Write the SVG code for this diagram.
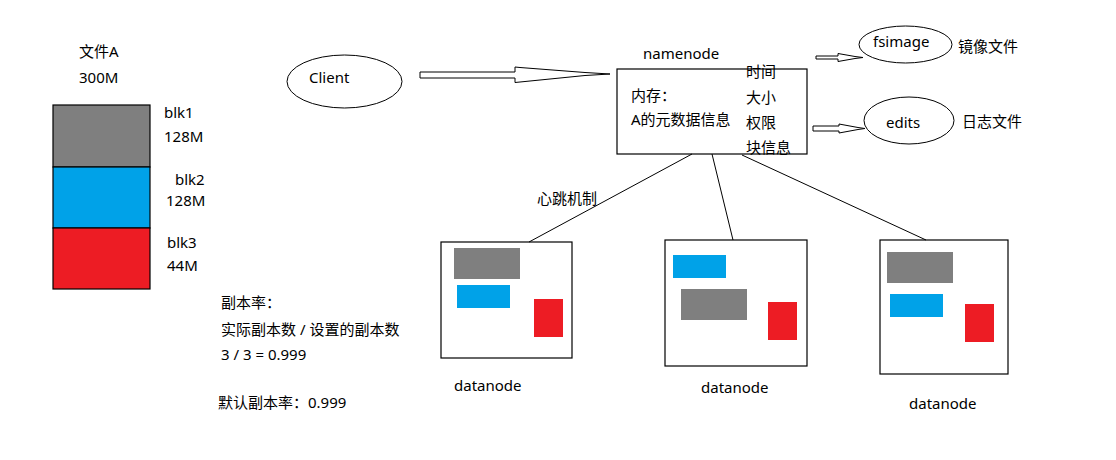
<svg xmlns="http://www.w3.org/2000/svg" width="1116" height="460" viewBox="0 0 1116 460">
<style>
text{font-family:"Noto Sans","Noto Sans CJK SC",sans-serif;font-size:15px;fill:#000}
.box{fill:#fff;stroke:#000;stroke-width:1.2}
.ell{fill:#fff;stroke:#000;stroke-width:1}
.g{fill:#7f7f7f}.b{fill:#00a2e8}.r{fill:#ed1c24}
.blk{stroke:#000;stroke-width:1.2}
.ln{stroke:#000;stroke-width:1;fill:none}
.arr{fill:#fff;stroke:#000;stroke-width:1;stroke-linejoin:miter}
</style>
<rect width="1116" height="460" fill="#fff"/>
<g id="fileA">
<text x="79" y="57">文件A</text>
<text x="79" y="83">300M</text>
<rect class="g blk" x="53" y="105" width="97" height="62"/>
<rect class="b blk" x="53" y="167" width="97" height="61"/>
<rect class="r blk" x="53" y="228" width="97" height="61"/>
<text x="164" y="118">blk1</text>
<text x="164" y="142">128M</text>
<text x="175" y="185">blk2</text>
<text x="166" y="206">128M</text>
<text x="167" y="248">blk3</text>
<text x="167" y="271">44M</text>
</g>
<g id="replica">
<text x="221" y="308">副本率：</text>
<text x="221" y="335">实际副本数 / 设置的副本数</text>
<text x="221" y="360">3 / 3 = 0.999</text>
<text x="218" y="408">默认副本率：0.999</text>
</g>
<g id="client">
<ellipse class="ell" cx="344.5" cy="81.5" rx="57.5" ry="26.5"/>
<text x="309" y="83">Client</text>
</g>
<g id="namenode">
<text x="643" y="59">namenode</text>
<rect class="box" x="617" y="69" width="190" height="85"/>
<text x="631" y="101">内存：</text>
<text x="631" y="125">A的元数据信息</text>
<text x="746" y="77">时间</text>
<text x="746" y="103">大小</text>
<text x="746" y="128">权限</text>
<text x="746" y="153">块信息</text>
</g>
<g id="fsimage">
<ellipse class="ell" cx="905.5" cy="44.5" rx="46.5" ry="18.5"/>
<text x="873" y="47">fsimage</text>
<text x="958" y="52">镜像文件</text>
</g>
<g id="edits">
<ellipse class="ell" cx="909" cy="120.5" rx="45" ry="23.5"/>
<text x="886" y="128">edits</text>
<text x="962" y="127">日志文件</text>
</g>
<g id="datanode1">
<rect class="box" x="441" y="242" width="131" height="116"/>
<rect class="g" x="454" y="248" width="66" height="31"/>
<rect class="b" x="457" y="285" width="53" height="23"/>
<rect class="r" x="534" y="299" width="29" height="38"/>
<text x="454" y="391">datanode</text>
</g>
<g id="datanode2">
<rect class="box" x="665" y="240" width="142" height="126"/>
<rect class="b" x="673" y="255" width="53" height="23"/>
<rect class="g" x="681" y="289" width="66" height="31"/>
<rect class="r" x="768" y="302" width="29" height="38"/>
<text x="701" y="393">datanode</text>
</g>
<g id="datanode3">
<rect class="box" x="880" y="240" width="128" height="134"/>
<rect class="g" x="887" y="252" width="66" height="31"/>
<rect class="b" x="890" y="294" width="53" height="23"/>
<rect class="r" x="965" y="304" width="29" height="38"/>
<text x="909" y="409">datanode</text>
</g>
<g id="connectors">
<polygon class="arr" points="420,72 515,72 515,67 520,67.5 585,72.5 610,74 585,75.5 520,82 515,82.5 515,78 420,78"/>
<polygon class="arr" points="816,56 838,56 838,53.5 855,56.5 863,57.5 855,58.5 838,61.5 838,59 816,59"/>
<polygon class="arr" points="813,126 839,126 839,124 858,127.5 865,128.5 858,129.5 839,133 839,131 813,131"/>
<line class="ln" x1="692" y1="154" x2="529" y2="242"/>
<line class="ln" x1="712" y1="154" x2="733" y2="240"/>
<line class="ln" x1="742" y1="155" x2="926" y2="240"/>
<text x="537" y="204">心跳机制</text>
</g>
</svg>
